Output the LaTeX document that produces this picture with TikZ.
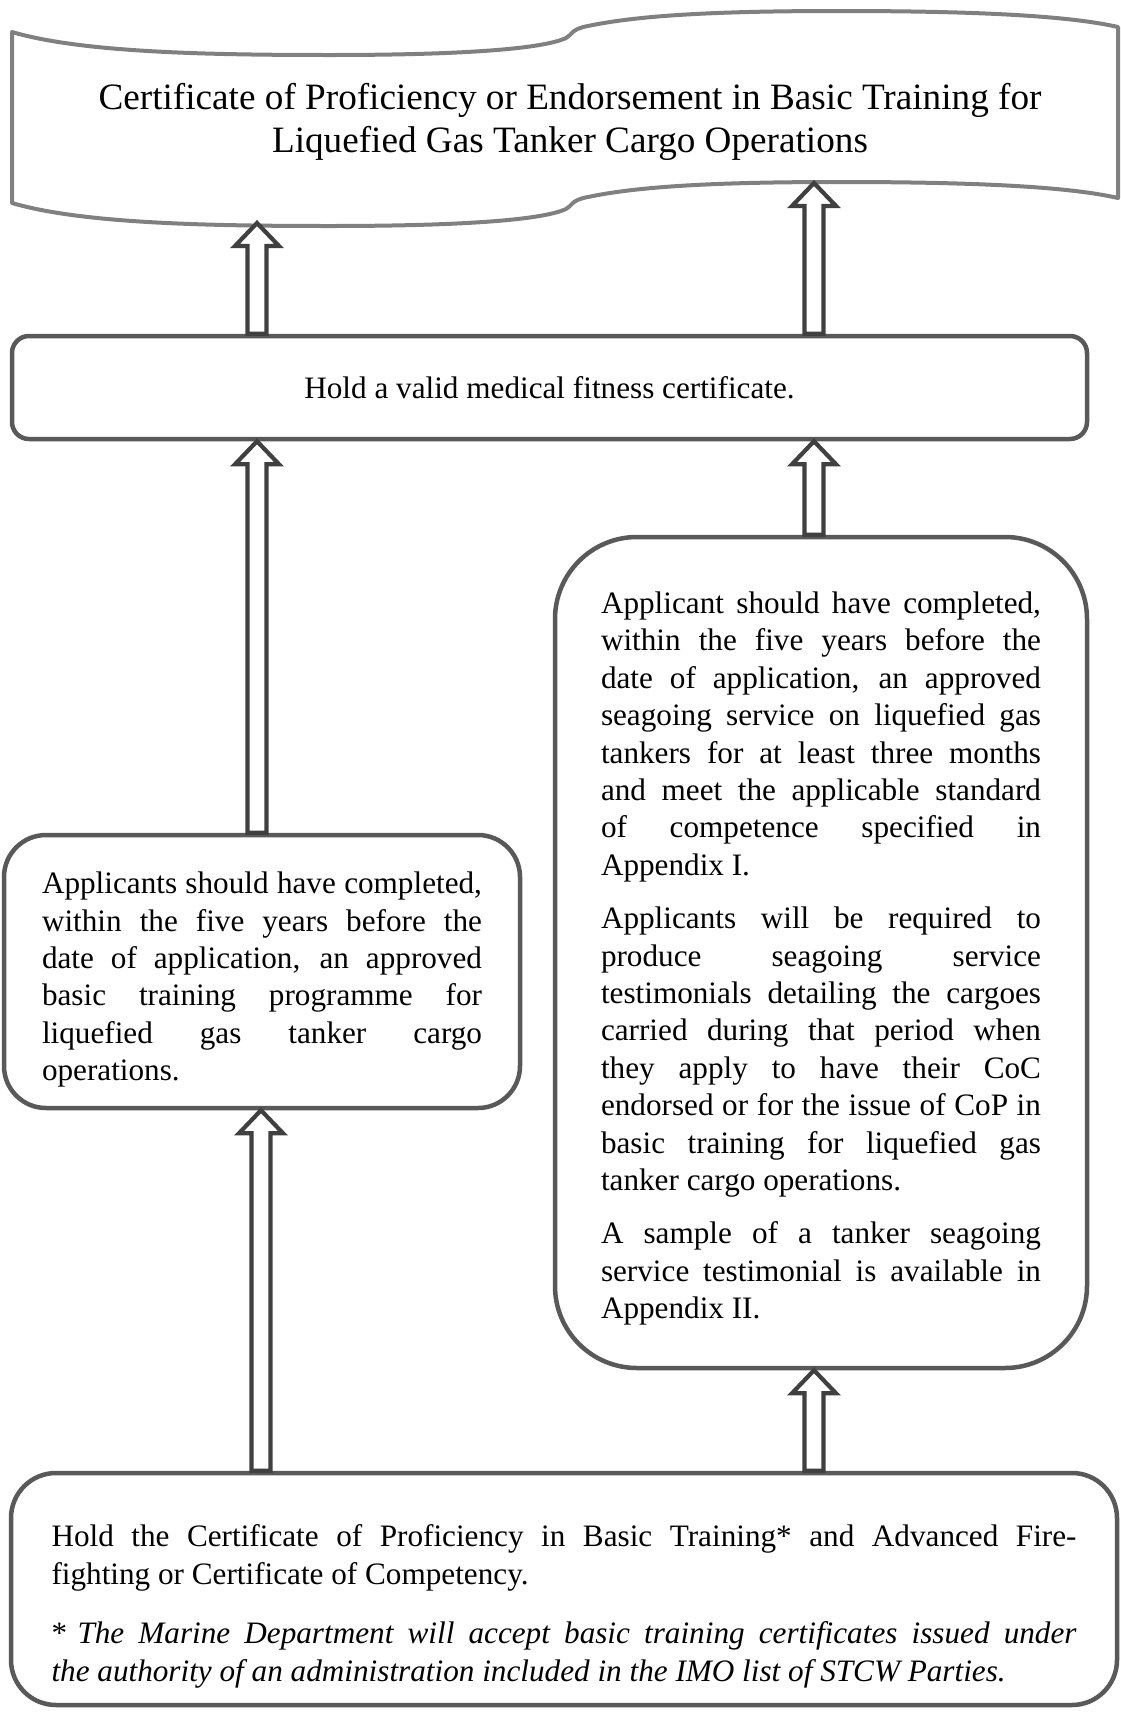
\documentclass[tikz,border=0pt]{standalone}
\usepackage{fontspec}
\setmainfont{Liberation Serif}
\usetikzlibrary{calc}
\definecolor{boxgray}{HTML}{595959}
\definecolor{arrgray}{HTML}{404040}
\definecolor{bangray}{HTML}{808080}
\newcommand{\bodyfont}{\fontsize{31.2}{37.4}\selectfont}
\newcommand{\botfont}{\fontsize{31.2}{38.5}\selectfont}
\newcommand{\titlefont}{\fontsize{37.2}{43}\selectfont}
\newcommand{\justset}{\parindent=0pt\hyphenpenalty=10000\exhyphenpenalty=10000\tolerance=10000\emergencystretch=0pt\parskip=16pt}
\newcommand{\blockarrow}[2]{%
  \draw[blkarrow] let \p1=(#1), \p2=(#2) in
  (\x1-9.5pt,\y1) -- (\x1-9.5pt,\y2-23pt) -- (\x1-22pt,\y2-23pt) -- (\x1,\y2)
  -- (\x1+22pt,\y2-23pt) -- (\x1+9.5pt,\y2-23pt) -- (\x1+9.5pt,\y1) -- cycle;}
\begin{document}
\begin{tikzpicture}[x=1pt,y=-1pt,
  rbox/.style={draw=boxgray, line width=4.5pt, rounded corners=#1, fill=white, inner sep=0pt},
  rbox/.default=42pt,
  blkarrow/.style={draw=arrgray, line width=4.2pt, fill=white, line join=miter},
  banner/.style={draw=bangray, line width=4pt, line join=round, fill=white}]
\useasboundingbox (0,0) rectangle (1121,1714);

% banner (wave shape)
\draw[banner] (12,32) .. controls (80,52) and (200,55) .. (330,55)
  .. controls (450,55) and (540,50) .. (566,38)
  .. controls (572,35) and (571,29) .. (588,26)
  .. controls (640,15) and (720,11) .. (840,11)
  .. controls (980,11) and (1070,16) .. (1118,27)
  -- (1118,198)
  .. controls (1070,187) and (980,182) .. (840,182)
  .. controls (720,182) and (640,186) .. (588,197)
  .. controls (571,200) and (572,206) .. (566,209)
  .. controls (540,221) and (450,226) .. (330,226)
  .. controls (200,226) and (80,223) .. (12,203) -- cycle;
\node[font=\titlefont, align=center, inner sep=0pt] (title) at (570,122)
  {Certificate of Proficiency or Endorsement in Basic Training for\\
   Liquefied Gas Tanker Cargo Operations};

\node[rbox=17pt, minimum width=1075pt, minimum height=103pt, font=\bodyfont,
  text height=28pt, text depth=7pt] (med)
  at (549.5,387.5) {Hold a valid medical fitness certificate.};

\node[rbox=42pt, minimum width=516pt, minimum height=273pt, text width=440pt,
  align=justify, font=\bodyfont] (left) at (262,971.5)
  {\justset\rule{0pt}{38pt}Applicants should have completed,\linebreak
   within the five years before the\linebreak
   date of application, an approved\linebreak
   basic training programme for\linebreak
   liquefied gas tanker cargo\linebreak
   operations.};

\node[rbox=82pt, minimum width=532pt, minimum height=831pt, text width=440pt,
  align=justify, font=\bodyfont] (right) at (821,952.5)
  {\justset\rule{0pt}{34pt}Applicant should have completed,\linebreak
   within the five years before the\linebreak
   date of application, an approved\linebreak
   seagoing service on liquefied gas\linebreak
   tankers for at least three months\linebreak
   and meet the applicable standard\linebreak
   of competence specified in\linebreak
   Appendix I.\par
   Applicants will be required to\linebreak
   produce seagoing service\linebreak
   testimonials detailing the cargoes\linebreak
   carried during that period when\linebreak
   they apply to have their CoC\linebreak
   endorsed or for the issue of CoP in\linebreak
   basic training for liquefied gas\linebreak
   tanker cargo operations.\par
   A sample of a tanker seagoing\linebreak
   service testimonial is available in\linebreak
   Appendix II.};

\node[rbox=45pt, minimum width=1106pt, minimum height=232pt, text width=1025pt,
  align=justify, font=\botfont] (bot) at (564,1589)
  {\justset\parskip=20pt\rule{0pt}{57pt}Hold the Certificate of Proficiency in Basic Training* and Advanced Fire-\linebreak
   fighting or Certificate of Competency.\par
   \hangindent=26pt\hangafter=1\noindent\makebox[26pt][l]{*}\textit{The Marine Department will accept basic training certificates issued under\linebreak
   the authority of an administration included in the IMO list of STCW Parties.}};

% connectors
\coordinate (colL) at (257,0);
\coordinate (colL2) at (261,0);
\coordinate (colR) at (814,0);
\coordinate (tipL) at (257,223);
\coordinate (tipR) at (814,183);
\blockarrow{colL |- med.north}{tipL}
\blockarrow{colR |- med.north}{tipR}
\blockarrow{colL |- left.north}{colL |- med.south}
\blockarrow{colR |- right.north}{colR |- med.south}
\blockarrow{colL2 |- bot.north}{colL2 |- left.south}
\blockarrow{colR |- bot.north}{colR |- right.south}
\end{tikzpicture}
\end{document}
